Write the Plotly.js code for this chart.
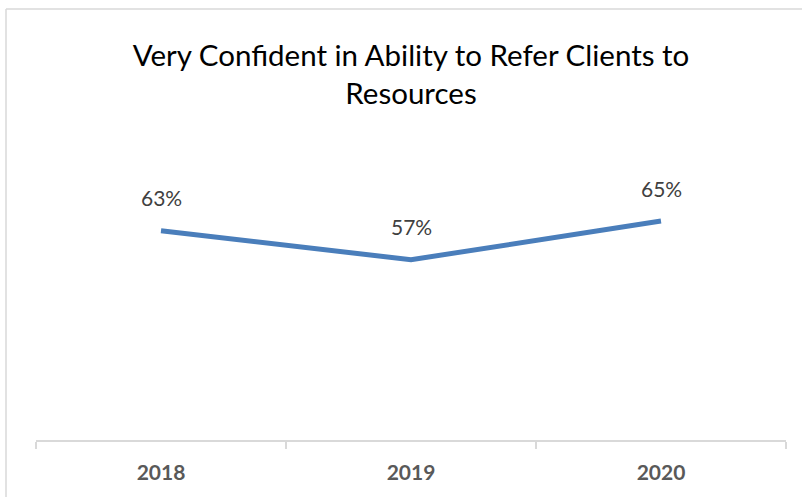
<!DOCTYPE html>
<html>
<head>
<meta charset="utf-8">
<script src="https://cdn.plot.ly/plotly-3.0.1.min.js"></script>
<style>
  html, body { margin: 0; padding: 0; background: #ffffff; }
  #chart { width: 802px; height: 497px; }
</style>
</head>
<body>
<div id="chart"></div>
<script>
// Data
const years = ["2018", "2019", "2020"];
const veryConfident = [0.63, 0.57, 0.65];
const titleText = "Very Confident in Ability to Refer Clients to<br>Resources";

const FONT = "Lato, 'Open Sans', sans-serif";

const trace = {
  type: "scatter",
  mode: "lines",
  x: years,
  y: veryConfident,
  line: { color: "#4a7ebb", width: 5 },
  hoverinfo: "x+y"
};

const labelAnnotations = years.map((yr, i) => ({
  x: i,
  y: veryConfident[i],
  xref: "x",
  yref: "y",
  text: Math.round(veryConfident[i] * 100) + "%",
  showarrow: false,
  yshift: 33,
  font: { family: FONT, size: 21, color: "#404040" }
}));

const layout = {
  width: 802,
  height: 497,
  margin: { l: 36, r: 16, t: 150, b: 57 },
  paper_bgcolor: "#ffffff",
  plot_bgcolor: "#ffffff",
  showlegend: false,
  title: {
    text: titleText,
    font: { family: FONT, size: 29.5, color: "#000000" },
    xref: "paper",
    x: 0.5,
    xanchor: "center",
    yref: "container",
    y: 1 - 66 / 497,
    yanchor: "top"
  },
  xaxis: {
    type: "category",
    range: [-0.5, 2.5],
    showgrid: false,
    zeroline: false,
    showline: true,
    linecolor: "#d9d9d9",
    linewidth: 1.5,
    ticks: "outside",
    tickson: "boundaries",
    ticklen: 7,
    tickcolor: "#d9d9d9",
    tickwidth: 1.5,
    ticklabelstandoff: 13,
    tickfont: { family: FONT, size: 21, color: "#595959", weight: "bold" },
    fixedrange: true
  },
  yaxis: {
    range: [0.197, 0.797],
    showgrid: false,
    zeroline: false,
    showline: false,
    showticklabels: false,
    ticks: "",
    fixedrange: true
  },
  annotations: labelAnnotations,
  shapes: [
    { type: "line", xref: "paper", yref: "paper", x0: -0.04, x1: -0.04, y0: 1.486, y1: -0.3, line: { color: "#d9d9d9", width: 1.5 } },
    { type: "line", xref: "paper", yref: "paper", x0: -0.04, x1: 1.03, y0: 1.486, y1: 1.486, line: { color: "#d9d9d9", width: 1.5 } }
  ]
};

Plotly.newPlot("chart", [trace], layout, { displayModeBar: false, staticPlot: true });
</script>
</body>
</html>
